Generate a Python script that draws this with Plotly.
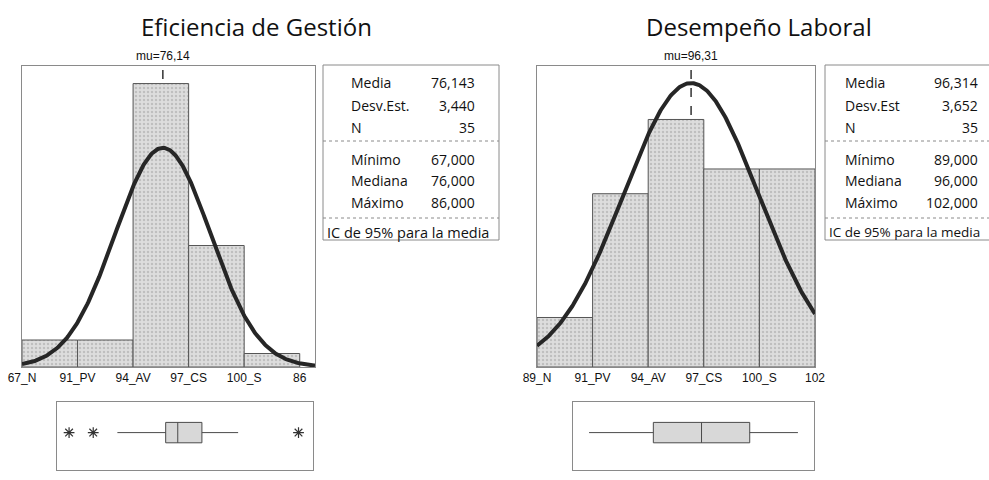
import math
import plotly.graph_objects as go

W, H = 989, 480

# ---------------- data ----------------
left_title = "Eficiencia de Gestión"
left_edges = [66, 70, 74, 78, 82, 86]
left_counts = [2, 2, 21, 9, 1]
left_ticklabels = ["67_N", "91_PV", "94_AV", "97_CS", "100_S", "86"]
left_mean, left_sd, left_n = 76.143, 3.440, 35
left_min, left_median, left_max = 67.0, 76.0, 86.0
left_q1, left_q3 = 75, 78
left_whisk_lo, left_whisk_hi = 71, 81
left_outliers = [67, 69, 86]

right_title = "Desempeño Laboral"
right_edges = [88, 91, 94, 97, 100, 103]
right_counts = [2, 7, 10, 8, 8]
right_ticklabels = ["89_N", "91_PV", "94_AV", "97_CS", "100_S", "102"]
right_mean, right_sd, right_n = 96.314, 3.652, 35
right_min, right_median, right_max = 89.0, 96.0, 102.0
right_q1, right_q3 = 93, 99
right_whisk_lo, right_whisk_hi = 89, 102
right_outliers = []

ic_label = "IC de 95% para la media"


def fmt(v, d=3):
    return f"{v:.{d}f}".replace(".", ",")


def px(x):
    return x / W


def py(y):
    return 1 - y / H


panels = [
    dict(title=left_title, edges=left_edges, counts=left_counts, ticks=left_ticklabels,
         mean=left_mean, sd=left_sd, n=left_n, mn=left_min, med=left_median, mx=left_max,
         q1=left_q1, q3=left_q3, wlo=left_whisk_lo, whi=left_whisk_hi, out=left_outliers,
         hx=(22, 315), hrange=(66, 87.1), yr=22.3, bx=(57, 313), brange=(66, 87.2),
         sbox=(323, 499), lab_x=349, val_x=477, ic_x=325, ic_size=14.5, title_x=256,
         stat_names=["Media", "Desv.Est.", "N", "Mínimo", "Mediana", "Máximo"]),
    dict(title=right_title, edges=right_edges, counts=right_counts, ticks=right_ticklabels,
         mean=right_mean, sd=right_sd, n=right_n, mn=right_min, med=right_median, mx=right_max,
         q1=right_q1, q3=right_q3, wlo=right_whisk_lo, whi=right_whisk_hi, out=right_outliers,
         hx=(537, 815), hrange=(88, 103), yr=12.16, bx=(573, 814), brange=(88, 103),
         sbox=(825, 1004), lab_x=843, val_x=980, ic_x=827, ic_size=13.5, title_x=759,
         stat_names=["Media", "Desv.Est", "N", "Mínimo", "Mediana", "Máximo"]),
]

fig = go.Figure()
layout = dict(
    width=W, height=H, margin=dict(l=0, r=0, t=0, b=0, autoexpand=False),
    paper_bgcolor="white", plot_bgcolor="white", showlegend=False,
)
shapes, annotations = [], []

HIST_TOP, HIST_BOT = 66, 367
BOX_TOP, BOX_BOT = 402, 470
FRAME = "#8a8a8a"
TXT = "#111111"

for i, p in enumerate(panels):
    hx_id = 2 * i + 1
    bx_id = 2 * i + 2
    xa = "x" if hx_id == 1 else f"x{hx_id}"
    ya = "y" if hx_id == 1 else f"y{hx_id}"
    xb = f"x{bx_id}"
    yb = f"y{bx_id}"

    edges = p["edges"]
    mids = [(edges[k] + edges[k + 1]) / 2 for k in range(len(edges) - 1)]
    widths = [edges[k + 1] - edges[k] for k in range(len(edges) - 1)]

    fig.add_trace(go.Bar(
        x=mids, y=p["counts"], width=widths, xaxis=xa, yaxis=ya,
        marker=dict(color="#dddddd", line=dict(color="#555555", width=1),
                    pattern=dict(shape=".", fgcolor="#a0a0a0", size=4, solidity=0.3,
                                 fillmode="overlay")),
        hoverinfo="skip",
    ))

    # fitted normal curve
    bw = widths[0]
    x0, x1 = p["hrange"]
    nsteps = 300
    cx = [x0 + (x1 - x0) * k / nsteps for k in range(nsteps + 1)]
    cy = [p["n"] * bw / (p["sd"] * math.sqrt(2 * math.pi)) *
          math.exp(-0.5 * ((v - p["mean"]) / p["sd"]) ** 2) for v in cx]
    fig.add_trace(go.Scatter(x=cx, y=cy, mode="lines", xaxis=xa, yaxis=ya,
                             line=dict(color="#262626", width=4), hoverinfo="skip"))

    # mu line + label
    shapes.append(dict(type="line", xref=xa, yref=f"{ya} domain", x0=p["mean"], x1=p["mean"],
                       y0=0, y1=1, layer="below",
                       line=dict(color="#333333", width=1.5, dash="dash")))
    annotations.append(dict(xref=xa, yref="paper", x=p["mean"], y=py(HIST_TOP - 1),
                            yanchor="bottom", xanchor="center", showarrow=False,
                            text="mu=" + fmt(p["mean"], 2),
                            font=dict(family="Liberation Sans", size=12, color=TXT)))

    layout[("xaxis" if hx_id == 1 else f"xaxis{hx_id}")] = dict(
        domain=[px(p["hx"][0]), px(p["hx"][1])], range=list(p["hrange"]),
        anchor=ya, tickvals=edges, ticktext=p["ticks"], ticks="", automargin=False,
        showline=True, mirror=True, linecolor=FRAME, linewidth=1, showgrid=False,
        zeroline=False, tickfont=dict(family="Liberation Sans", size=12, color=TXT),
    )
    layout[("yaxis" if hx_id == 1 else f"yaxis{hx_id}")] = dict(
        domain=[py(HIST_BOT), py(HIST_TOP)], range=[0, p["yr"]], anchor=xa,
        showticklabels=False, ticks="", showgrid=False, zeroline=False, automargin=False,
        showline=True, mirror=True, linecolor=FRAME, linewidth=1,
    )

    # boxplot
    fig.add_trace(go.Box(
        orientation="h", y=[0], q1=[p["q1"]], median=[p["med"]], q3=[p["q3"]],
        lowerfence=[p["wlo"]], upperfence=[p["whi"]], xaxis=xb, yaxis=yb,
        width=0.6, whiskerwidth=0, fillcolor="#d8d8d8",
        line=dict(color="#4a4a4a", width=1), hoverinfo="skip", boxpoints=False,
    ))
    if p["out"]:
        fig.add_trace(go.Scatter(
            x=p["out"], y=[0] * len(p["out"]), mode="markers", xaxis=xb, yaxis=yb,
            marker=dict(symbol="asterisk-open", size=9, color="#333333",
                        line=dict(color="#333333", width=1.2)),
            hoverinfo="skip",
        ))
    layout[f"xaxis{bx_id}"] = dict(
        domain=[px(p["bx"][0]), px(p["bx"][1])], range=list(p["brange"]), anchor=yb,
        showticklabels=False, ticks="", showgrid=False, zeroline=False, automargin=False,
        showline=True, mirror=True, linecolor=FRAME, linewidth=1,
    )
    layout[f"yaxis{bx_id}"] = dict(
        domain=[py(BOX_BOT), py(BOX_TOP)], range=[-1.1, 0.9], anchor=xb,
        showticklabels=False, ticks="", showgrid=False, zeroline=False, automargin=False,
        showline=True, mirror=True, linecolor=FRAME, linewidth=1,
    )

    # title
    annotations.append(dict(xref="paper", yref="paper", x=px(p["title_x"]), y=py(26),
                            xanchor="center", yanchor="middle", showarrow=False,
                            text=p["title"],
                            font=dict(family="Open Sans", size=24, color="#111111")))

    # stats box
    sx0, sx1 = p["sbox"]
    shapes.append(dict(type="rect", xref="paper", yref="paper", x0=px(sx0), x1=px(sx1),
                       y0=py(240), y1=py(65), line=dict(color=FRAME, width=1)))
    for ydiv in (141, 218):
        shapes.append(dict(type="line", xref="paper", yref="paper", x0=px(sx0), x1=px(sx1),
                           y0=py(ydiv), y1=py(ydiv),
                           line=dict(color=FRAME, width=1, dash="dot")))
    values = [fmt(p["mean"]), fmt(p["sd"]), str(p["n"]), fmt(p["mn"]), fmt(p["med"]), fmt(p["mx"])]
    rows_y = [83, 105, 127, 160, 180, 202]
    for lab, val, yy in zip(p["stat_names"], values, rows_y):
        annotations.append(dict(xref="paper", yref="paper", x=px(p["lab_x"]), y=py(yy),
                                xanchor="left", yanchor="middle", showarrow=False, text=lab,
                                font=dict(family="Open Sans", size=14, color=TXT)))
        annotations.append(dict(xref="paper", yref="paper", x=px(p["val_x"]), y=py(yy),
                                xanchor="right", yanchor="middle", showarrow=False, text=val,
                                font=dict(family="Open Sans", size=14, color=TXT)))
    annotations.append(dict(xref="paper", yref="paper", x=px(p["ic_x"]), y=py(232),
                            xanchor="left", yanchor="middle", showarrow=False, text=ic_label,
                            font=dict(family="Open Sans", size=p["ic_size"], color=TXT)))

layout["shapes"] = shapes
layout["annotations"] = annotations
layout["bargap"] = 0
fig.update_layout(**layout)
fig.write_html(
    "out.html",
    config={"displayModeBar": False, "staticPlot": True},
    post_script="document.body.style.margin='0';document.body.style.overflow='hidden';",
)
